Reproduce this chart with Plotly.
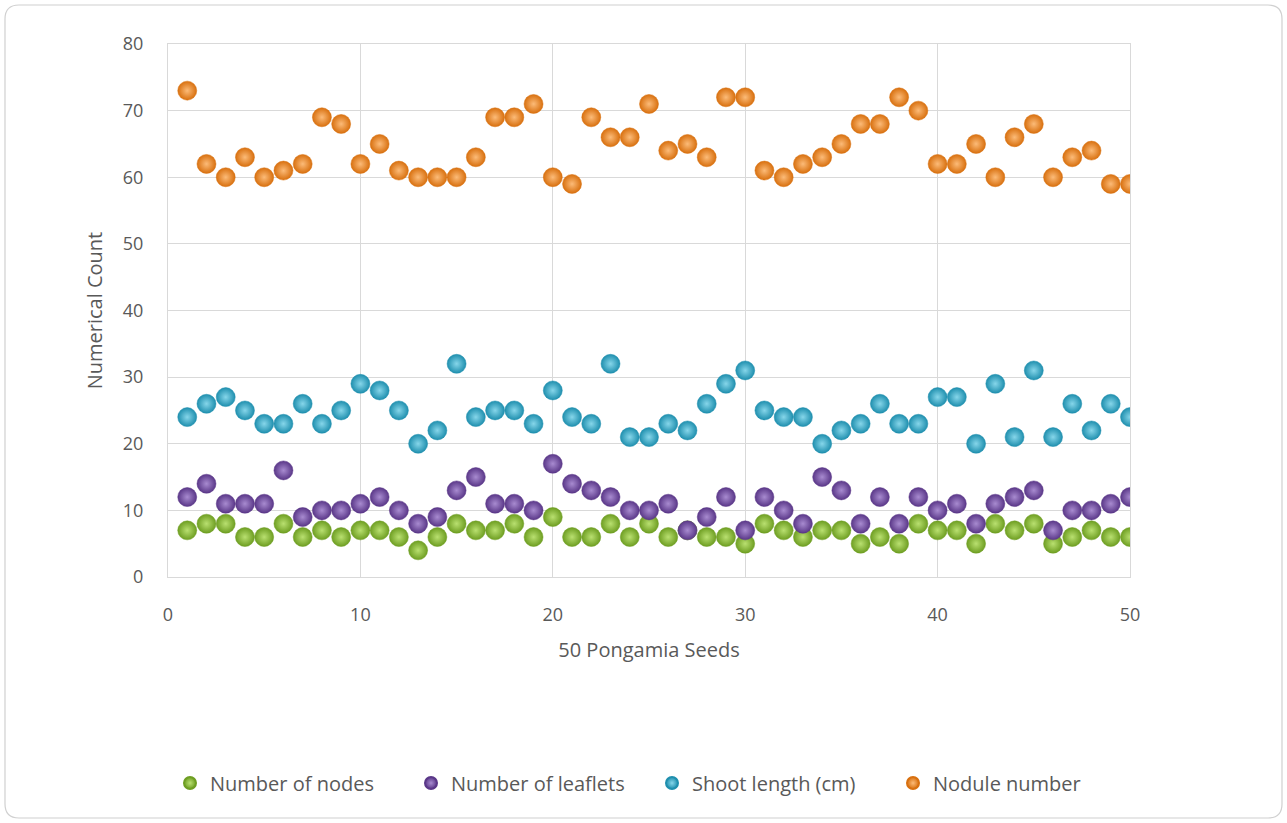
import plotly.graph_objects as go

# Seed index (1..50)
seeds = list(range(1, 51))

nodes = [7, 8, 8, 6, 6, 8, 6, 7, 6, 7,
         7, 6, 4, 6, 8, 7, 7, 8, 6, 9,
         6, 6, 8, 6, 8, 6, 7, 6, 6, 5,
         8, 7, 6, 7, 7, 5, 6, 5, 8, 7,
         7, 5, 8, 7, 8, 5, 6, 7, 6, 6]

leaflets = [12, 14, 11, 11, 11, 16, 9, 10, 10, 11,
            12, 10, 8, 9, 13, 15, 11, 11, 10, 17,
            14, 13, 12, 10, 10, 11, 7, 9, 12, 7,
            12, 10, 8, 15, 13, 8, 12, 8, 12, 10,
            11, 8, 11, 12, 13, 7, 10, 10, 11, 12]

shoot_length = [24, 26, 27, 25, 23, 23, 26, 23, 25, 29,
                28, 25, 20, 22, 32, 24, 25, 25, 23, 28,
                24, 23, 32, 21, 21, 23, 22, 26, 29, 31,
                25, 24, 24, 20, 22, 23, 26, 23, 23, 27,
                27, 20, 29, 21, 31, 21, 26, 22, 26, 24]

nodules = [73, 62, 60, 63, 60, 61, 62, 69, 68, 62,
           65, 61, 60, 60, 60, 63, 69, 69, 71, 60,
           59, 69, 66, 66, 71, 64, 65, 63, 72, 72,
           61, 60, 62, 63, 65, 68, 68, 72, 70, 62,
           62, 65, 60, 66, 68, 60, 63, 64, 59, 59]

# (name, values, sphere edge colour, sphere highlight colour)
series = [
    ("Number of nodes", nodes, "#6e9e22", "#b9e070"),
    ("Number of leaflets", leaflets, "#5a3788", "#a88bd0"),
    ("Shoot length (cm)", shoot_length, "#1f8fae", "#86d6ea"),
    ("Nodule number", nodules, "#d8700f", "#fcbb78"),
]

fig = go.Figure()
for name, vals, edge, light in series:
    fig.add_trace(go.Scatter(
        x=seeds, y=vals, mode="markers", name=name,
        marker=dict(size=19, color=edge, opacity=1,
                    gradient=dict(type="radial", color=light),
                    line=dict(width=0.5, color=edge)),
    ))

W, H = 1287, 823
ml, mr, mt, mb = 168, 157, 44, 246
pw, ph = W - ml - mr, H - mt - mb


def px(xp):
    return (xp - ml) / pw


def py(yp):
    return (H - mb - yp) / ph


# Rounded outer chart border
x0, x1, y0, y1, r = 5, 1282, 5, 818, 14
path = (f"M {px(x0 + r)},{py(y0)} L {px(x1 - r)},{py(y0)} "
        f"Q {px(x1)},{py(y0)} {px(x1)},{py(y0 + r)} "
        f"L {px(x1)},{py(y1 - r)} Q {px(x1)},{py(y1)} {px(x1 - r)},{py(y1)} "
        f"L {px(x0 + r)},{py(y1)} Q {px(x0)},{py(y1)} {px(x0)},{py(y1 - r)} "
        f"L {px(x0)},{py(y0 + r)} Q {px(x0)},{py(y0)} {px(x0 + r)},{py(y0)} Z")

font_family = "Open Sans, Noto Sans, sans-serif"
grid = "#d9d9d9"
txt = "#595959"

fig.update_layout(
    width=W, height=H,
    margin=dict(l=ml, r=mr, t=mt, b=mb, autoexpand=False),
    paper_bgcolor="white", plot_bgcolor="white",
    font=dict(family=font_family, size=18, color=txt),
    showlegend=True,
    legend=dict(orientation="h", x=px(170), xanchor="left",
                y=py(783), yanchor="middle", entrywidth=196,
                font=dict(size=20, color=txt), itemsizing="constant"),
    shapes=[dict(type="path", xref="paper", yref="paper", path=path,
                 line=dict(color="#d0d0d0", width=1.2), layer="below")],
    xaxis=dict(range=[0, 50], dtick=10, tick0=0, showgrid=True, gridcolor=grid,
               gridwidth=1, zeroline=False, showline=True, linecolor=grid,
               mirror=True, ticks="outside", ticklen=21,
               tickcolor="rgba(0,0,0,0)",
               title=dict(text="50 Pongamia Seeds", standoff=18,
                          font=dict(size=20, color=txt))),
    yaxis=dict(range=[0, 80], dtick=10, tick0=0, showgrid=True, gridcolor=grid,
               gridwidth=1, zeroline=False, showline=True, linecolor=grid,
               mirror=True, ticks="outside", ticklen=20,
               tickcolor="rgba(0,0,0,0)",
               title=dict(text="Numerical Count", standoff=14,
                          font=dict(size=20, color=txt))),
)

fig.write_html("out.html")
